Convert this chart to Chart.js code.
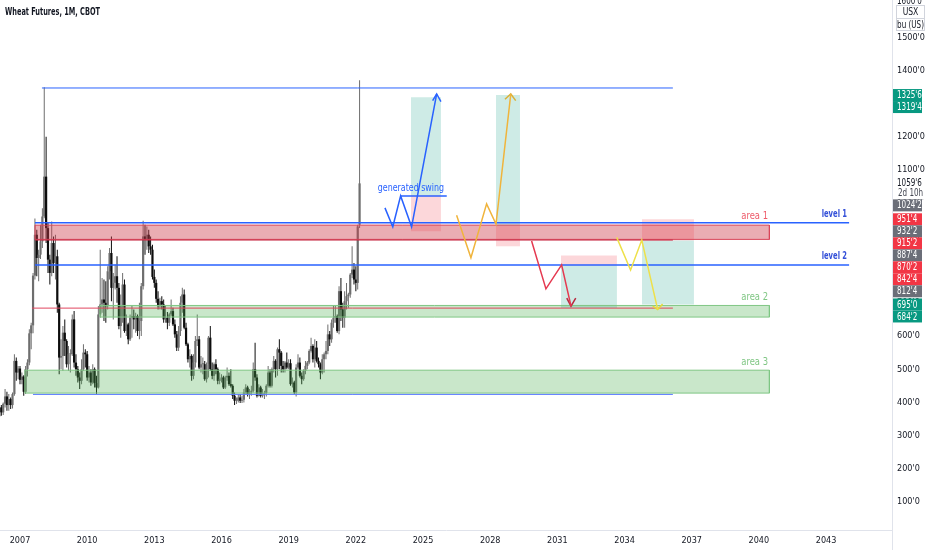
<!DOCTYPE html>
<html>
<head>
<meta charset="utf-8">
<script src="https://cdn.jsdelivr.net/npm/chart.js"></script>
<style>
  html, body { margin: 0; padding: 0; background: #ffffff; }
  #wrap { width: 932px; height: 550px; }
</style>
</head>
<body>
<div id="wrap"><canvas id="chart" width="932" height="550"></canvas></div>
<script>
// Wheat Futures, 1M, CBOT - monthly candles from Feb 2006 to Mar 2022
var startYear = 2006, startMonth = 2;

var opens = [
  358, 385, 370, 396, 418, 392, 410, 392, 425, 525, 490,            // 2006 (Feb-Dec)
  502, 468, 478, 432, 500, 520, 608, 632, 782, 905, 835, 845,       // 2007
  885, 960, 1080, 925, 830, 790, 880, 820, 840, 695, 535, 540,      // 2008
  610, 585, 515, 545, 545, 650, 520, 500, 475, 465, 500, 550,       // 2009
  545, 475, 490, 460, 500, 458, 445, 665, 695, 710, 700, 690,       // 2010
  795, 850, 745, 760, 780, 745, 630, 690, 755, 615, 635, 590,       // 2011
  655, 660, 650, 660, 615, 645, 750, 900, 890, 905, 870, 860,       // 2012
  778, 760, 712, 690, 705, 695, 650, 655, 640, 665, 675, 635,       // 2013
  605, 565, 615, 700, 725, 625, 575, 530, 540, 480, 520, 585,       // 2014
  590, 505, 515, 515, 470, 515, 595, 500, 480, 515, 500, 465,       // 2015
  470, 475, 445, 475, 480, 455, 450, 420, 405, 405, 415, 405,       // 2016
  408, 430, 445, 425, 430, 435, 500, 475, 420, 445, 420, 425,       // 2017
  428, 450, 490, 450, 500, 525, 500, 560, 550, 510, 500, 520,       // 2018
  505, 518, 455, 460, 430, 505, 520, 480, 470, 495, 510, 520,       // 2019
  555, 570, 530, 565, 525, 515, 490, 530, 545, 555, 605, 590,       // 2020
  640, 655, 660, 615, 735, 680, 655, 705, 720, 725, 785, 800,       // 2021
  770, 760, 935                                                     // 2022 (Jan-Mar)
];
var highs = [
  392, 392, 400, 440, 432, 425, 415, 430, 545, 535, 510,
  510, 490, 482, 510, 530, 620, 640, 790, 954, 920, 860, 935,
  985, 1349, 1200, 940, 845, 945, 900, 905, 860, 700, 590, 630,
  650, 590, 570, 560, 665, 675, 545, 510, 490, 530, 575, 560,
  555, 510, 500, 515, 505, 480, 690, 860, 775, 770, 765, 810,
  865, 900, 790, 815, 840, 760, 725, 790, 770, 665, 640, 665,
  690, 680, 670, 665, 700, 760, 947, 935, 930, 920, 900, 875,
  800, 770, 735, 715, 720, 710, 690, 672, 670, 710, 685, 650,
  615, 630, 720, 745, 740, 640, 580, 560, 545, 545, 600, 665,
  600, 540, 535, 525, 520, 600, 630, 520, 520, 530, 505, 490,
  485, 480, 480, 505, 490, 500, 455, 430, 415, 425, 425, 420,
  440, 455, 450, 440, 450, 520, 580, 485, 455, 450, 440, 435,
  455, 510, 500, 505, 540, 530, 565, 590, 555, 525, 525, 550,
  530, 530, 475, 465, 515, 545, 535, 490, 500, 525, 525, 560,
  595, 575, 590, 585, 535, 520, 545, 550, 585, 635, 615, 650,
  690, 690, 665, 750, 775, 700, 735, 760, 730, 790, 870, 820,
  810, 935, 1370
];
var lows = [
  350, 360, 362, 385, 375, 375, 380, 382, 420, 465, 470,
  455, 455, 420, 425, 478, 512, 560, 608, 770, 780, 765, 832,
  865, 955, 880, 790, 755, 780, 790, 770, 670, 485, 500, 495,
  540, 505, 495, 490, 540, 505, 480, 460, 440, 455, 495, 505,
  465, 460, 450, 455, 445, 425, 442, 655, 670, 645, 640, 680,
  770, 705, 650, 740, 700, 620, 595, 640, 610, 600, 575, 585,
  595, 620, 610, 600, 590, 600, 740, 845, 860, 850, 845, 770,
  745, 700, 680, 680, 680, 640, 640, 620, 630, 660, 630, 595,
  555, 555, 600, 670, 620, 570, 520, 505, 465, 470, 505, 570,
  500, 490, 485, 465, 460, 475, 495, 470, 465, 485, 455, 455,
  460, 440, 440, 465, 450, 445, 410, 392, 395, 400, 398, 398,
  400, 425, 418, 410, 420, 430, 465, 415, 418, 415, 415, 410,
  418, 445, 445, 445, 490, 475, 480, 500, 490, 490, 490, 500,
  500, 450, 445, 425, 418, 500, 475, 455, 465, 485, 500, 515,
  550, 520, 505, 520, 505, 470, 485, 490, 530, 545, 570, 580,
  625, 640, 610, 605, 645, 625, 625, 680, 685, 715, 775, 755,
  735, 740, 925
];
var closes = [
  385, 370, 396, 418, 392, 410, 392, 425, 525, 490, 502,
  468, 478, 432, 500, 520, 608, 632, 782, 905, 835, 845, 885,
  960, 1080, 925, 830, 790, 880, 820, 840, 695, 535, 540, 610,
  585, 515, 545, 545, 650, 520, 500, 475, 465, 500, 550, 545,
  475, 490, 460, 500, 458, 445, 665, 695, 710, 700, 690, 795,
  850, 745, 760, 780, 745, 630, 690, 755, 615, 635, 590, 655,
  660, 650, 660, 615, 645, 750, 900, 890, 905, 870, 860, 778,
  760, 712, 690, 705, 695, 650, 655, 640, 665, 675, 635, 605,
  565, 615, 700, 725, 625, 575, 530, 540, 480, 520, 585, 590,
  505, 515, 515, 470, 515, 595, 500, 480, 515, 500, 465, 470,
  475, 445, 475, 480, 455, 450, 420, 405, 405, 415, 405, 408,
  430, 445, 425, 430, 435, 500, 475, 420, 445, 420, 425, 428,
  450, 490, 450, 500, 525, 500, 560, 550, 510, 500, 520, 505,
  518, 455, 460, 430, 505, 520, 480, 470, 495, 510, 520, 555,
  570, 530, 565, 525, 515, 490, 530, 545, 555, 605, 590, 640,
  655, 660, 615, 735, 680, 655, 705, 720, 725, 785, 800, 770,
  760, 930, 1059.75
];

// axes
var yearTicks = [2007, 2010, 2013, 2016, 2019, 2022, 2025, 2028, 2031, 2034, 2037, 2040, 2043];
var priceTicks = [100, 200, 300, 400, 500, 600, 700, 800, 900, 1000, 1100, 1200, 1300, 1400, 1500];

// zones (area 1..3): x in years, y in cents
var zoneNames = ['area 1', 'area 2', 'area 3'];
var zoneFrom = [2007.67, 2010.57, 2007.22];
var zoneTo = [2040.47, 2040.47, 2040.47];
var zoneTop = [934, 692, 497];
var zoneBottom = [891, 657, 428];

// horizontal lines
var lineValues = [1347, 941, 814, 889, 684, 424];
var lineFrom = [2007.98, 2007.67, 2007.67, 2007.67, 2007.54, 2007.58];
var lineTo = [2036.16, 2044.03, 2044.03, 2036.16, 2036.16, 2036.16];

// long / short position boxes
var posFrom = [2024.46, 2028.26, 2031.16, 2034.78];
var posTo = [2025.80, 2029.33, 2033.66, 2037.10];
var posEntry = [1024.25, 932.25, 812.5, 887.5];
var posTarget = [1319.5, 1325.75, 684.25, 695];
var posStop = [915.25, 870.25, 842.5, 951.5];

// hand drawn swings
var blueSwingX = [2023.30, 2023.65, 2024.00, 2024.49, 2025.61];
var blueSwingY = [986, 929, 1022, 929, 1329];
var blueHeadX = [2025.43, 2025.61, 2025.80];
var blueHeadY = [1309, 1329, 1306];
var blueFlatX = [2024.00, 2026.06];
var blueFlatY = [1022, 1022];
var orangeSwingX = [2026.50, 2027.14, 2027.84, 2028.26, 2028.92];
var orangeSwingY = [964, 836, 998, 937, 1329];
var orangeHeadX = [2028.66, 2028.92, 2029.14];
var orangeHeadY = [1313, 1329, 1309];
var redSwingX = [2029.85, 2030.49, 2031.19, 2031.61];
var redSwingY = [886, 742, 814, 690];
var redHeadX = [2031.42, 2031.61, 2031.82];
var redHeadY = [714, 690, 714];
var yellowSwingX = [2033.65, 2034.27, 2034.77, 2035.48];
var yellowSwingY = [897, 799, 889, 680];
var yellowHeadX = [2035.26, 2035.48, 2035.70];
var yellowHeadY = [690, 680, 696];

// text notes on the chart
var noteTexts = ['generated swing', 'area 1', 'level 1', 'level 2', 'area 2', 'area 3'];
var noteX = [2024.46, 2040.41, 2043.94, 2043.94, 2040.41, 2040.41];
var noteY = [1046, 961, 967, 841, 717, 522];

// price tags on the right axis
var tagValues = [1325.75, 1319.5, 1059.75, 1024.25, 951.5, 932.25, 915.25, 887.5, 870.25, 842.5, 812.5, 695, 684.25];
var tagKinds = ['green', 'green', 'last', 'gray', 'red', 'gray', 'red', 'gray', 'red', 'red', 'gray', 'green', 'green'];

var narrow = "'DejaVu Sans Condensed', 'Liberation Sans', sans-serif";
var tagColors = { green: '#089981', red: '#f23645', gray: '#6b6e78' };

function fmtPrice(v) {
  var whole = Math.floor(v + 1e-9);
  return whole + "'" + Math.round((v - whole) * 8);
}

function pts(xs, ys) {
  return xs.map(function (x, i) { return { x: x, y: ys[i] }; });
}

function boxFill(x1, x2, top, bottom, color, order) {
  return {
    type: 'line', data: [{ x: x1, y: top }, { x: x2, y: top }],
    borderColor: 'rgba(0,0,0,0)', borderWidth: 0, pointRadius: 0,
    backgroundColor: color, fill: { value: bottom }, order: order
  };
}

function boxOutline(x1, x2, top, bottom, color, order) {
  return {
    type: 'line',
    data: [{ x: x1, y: top }, { x: x2, y: top }, { x: x2, y: bottom }, { x: x1, y: bottom }, { x: x1, y: top }],
    borderColor: color, borderWidth: 1, pointRadius: 0, fill: false, order: order
  };
}

function path(xs, ys, color, width, order) {
  return {
    type: 'line', data: pts(xs, ys), borderColor: color, borderWidth: width,
    pointRadius: 0, fill: false, tension: 0, order: order
  };
}

var candleX = opens.map(function (o, i) { return startYear + (startMonth - 1 + i) / 12; });
function candleColor(c) {
  var i = c.dataIndex;
  return closes[i] >= opens[i] ? '#6e6e6e' : '#0d0d0d';
}

var datasets = [];
// wicks and bodies
datasets.push({
  type: 'bar', data: candleX.map(function (x, i) { return { x: x, y: [lows[i], highs[i]] }; }),
  backgroundColor: candleColor, barThickness: 1, grouped: false, inflateAmount: 0, order: 40
});
datasets.push({
  type: 'bar', data: candleX.map(function (x, i) { return { x: x, y: [opens[i], closes[i]] }; }),
  backgroundColor: candleColor, barThickness: 2.2, grouped: false, inflateAmount: 0, minBarLength: 1, order: 39
});

// zones
var zoneFill = ['rgba(204, 60, 75, 0.42)', 'rgba(76, 175, 80, 0.3)', 'rgba(76, 175, 80, 0.3)'];
var zoneEdge = ['#d9475a', '#7fc683', '#7fc683'];
zoneNames.forEach(function (n, i) {
  datasets.push(boxFill(zoneFrom[i], zoneTo[i], zoneTop[i], zoneBottom[i], zoneFill[i], 30));
  datasets.push(boxOutline(zoneFrom[i], zoneTo[i], zoneTop[i], zoneBottom[i], zoneEdge[i], 20));
});

// positions
posEntry.forEach(function (e, i) {
  datasets.push(boxFill(posFrom[i], posTo[i], posTarget[i], e, 'rgba(8, 153, 129, 0.2)', 25));
  datasets.push(boxFill(posFrom[i], posTo[i], posStop[i], e, 'rgba(242, 54, 69, 0.2)', 25));
});

// horizontal lines
var lineColors = ['#2962ff', '#2962ff', '#2962ff', '#c62842', '#e0455e', '#5b7bff'];
var lineWidths = [1, 1.5, 1.5, 1, 1, 1];
lineValues.forEach(function (v, i) {
  datasets.push(path([lineFrom[i], lineTo[i]], [v, v], lineColors[i], lineWidths[i], 10));
});

// swings
datasets.push(path(blueSwingX, blueSwingY, '#2962ff', 1.5, 2));
datasets.push(path(blueHeadX, blueHeadY, '#2962ff', 1.5, 2));
datasets.push(path(blueFlatX, blueFlatY, '#2962ff', 1.5, 2));
datasets.push(path(orangeSwingX, orangeSwingY, '#f0b43c', 1.5, 2));
datasets.push(path(orangeHeadX, orangeHeadY, '#d9b13a', 1.5, 2));
datasets.push(path(redSwingX, redSwingY, '#e53950', 1.5, 2));
datasets.push(path(redHeadX, redHeadY, '#b8283f', 1.5, 2));
datasets.push(path(yellowSwingX, yellowSwingY, '#eee04a', 1.5, 2));
datasets.push(path(yellowHeadX, yellowHeadY, '#e6d83a', 1.5, 2));

// text squeezed horizontally to match the narrow chart font
function narrowText(ctx, text, x, y, align, sx) {
  var w = ctx.measureText(text).width * sx;
  var left = align === 'right' ? x - w : (align === 'center' ? x - w / 2 : x);
  ctx.save();
  ctx.textAlign = 'left';
  ctx.translate(left, y);
  ctx.scale(sx, 1);
  ctx.fillText(text, 0, 0);
  ctx.restore();
}

var overlay = {
  id: 'overlay',
  afterDraw: function (chart) {
    var ctx = chart.ctx, xs = chart.scales.x, ys = chart.scales.y, area = chart.chartArea;
    ctx.save();
    ctx.textBaseline = 'middle';

    // chart notes
    var noteColors = ['#2962ff', '#ee5b6a', '#3450d8', '#3450d8', '#7fc683', '#7fc683'];
    var noteAlign = ['center', 'right', 'right', 'right', 'right', 'right'];
    var noteFonts = ['11px ', '11px ', 'bold 10.5px ', 'bold 10.5px ', '11px ', '11px '];
    var noteSquash = [0.8, 0.85, 0.72, 0.72, 0.85, 0.85];
    noteTexts.forEach(function (t, i) {
      ctx.font = noteFonts[i] + narrow;
      ctx.fillStyle = noteColors[i];
      narrowText(ctx, t, xs.getPixelForValue(noteX[i]), ys.getPixelForValue(noteY[i]), noteAlign[i], noteSquash[i]);
    });

    // axis separator through the corner
    ctx.strokeStyle = '#e0e3eb';
    ctx.lineWidth = 1;
    ctx.beginPath();
    ctx.moveTo(area.right + 0.5, 0);
    ctx.lineTo(area.right + 0.5, chart.height);
    ctx.stroke();

    // price tags, stacked so they do not overlap
    var tx = area.right + 5;
    var prevBottom = -Infinity;
    ctx.font = '10px ' + narrow;
    tagValues.forEach(function (v, i) {
      var kind = tagKinds[i];
      var h = kind === 'last' ? 22 : 12;
      var c = ys.getPixelForValue(v) + (kind === 'last' ? 5 : 0);
      var top = Math.max(c - h / 2, prevBottom);
      prevBottom = top + h;
      if (kind === 'last') {
        ctx.fillStyle = '#ffffff';
        ctx.fillRect(area.right + 1, top, 35, h);
        ctx.fillStyle = '#131722';
        narrowText(ctx, fmtPrice(v), tx, top + 6, 'left', 0.8);
        ctx.fillStyle = '#434651';
        narrowText(ctx, '2d 10h', tx + 1, top + 16.5, 'left', 0.8);
      } else {
        ctx.fillStyle = tagColors[kind];
        ctx.fillRect(area.right + 1, top, 29, h);
        ctx.fillStyle = '#ffffff';
        ctx.fillRect(area.right + 30, top, 10, h);
        ctx.fillStyle = '#ffffff';
        narrowText(ctx, fmtPrice(v), tx, top + h / 2 + 0.5, 'left', 0.8);
      }
    });

    // top right unit box
    ctx.fillStyle = '#131722';
    narrowText(ctx, fmtPrice(1600), tx, ys.getPixelForValue(1600) - 3, 'left', 0.8);
    ctx.fillStyle = '#ffffff';
    ctx.fillRect(area.right + 4, 5, 29, 26);
    ctx.strokeStyle = '#d1d4dc';
    ctx.strokeRect(area.right + 4.5, 5.5, 28, 25);
    ctx.beginPath();
    ctx.moveTo(area.right + 4.5, 18.5);
    ctx.lineTo(area.right + 32.5, 18.5);
    ctx.stroke();
    ctx.fillStyle = '#131722';
    narrowText(ctx, 'USX', area.right + 18.5, 12, 'center', 0.85);
    narrowText(ctx, 'bu (US)', area.right + 18.5, 25, 'center', 0.8);

    // title
    ctx.font = 'bold 10.5px ' + narrow;
    ctx.fillStyle = '#131722';
    narrowText(ctx, 'Wheat Futures, 1M, CBOT', 5, 12, 'left', 95 / ctx.measureText('Wheat Futures, 1M, CBOT').width);
    ctx.restore();
  }
};

var tickFont = { family: narrow, size: 9 };

new Chart(document.getElementById('chart').getContext('2d'), {
  type: 'line',
  data: { datasets: datasets },
  options: {
    responsive: false,
    animation: false,
    events: [],
    layout: { padding: 0 },
    plugins: { legend: { display: false }, tooltip: { enabled: false } },
    scales: {
      x: {
        type: 'linear', min: 2006.107, max: 2045.946, offset: false,
        grid: { display: false, drawTicks: false },
        border: { display: true, color: '#e0e3eb' },
        ticks: { padding: 5, color: '#131722', font: tickFont, maxRotation: 0, autoSkip: false,
                 callback: function (v) { return String(v); } },
        afterBuildTicks: function (s) { s.ticks = yearTicks.map(function (v) { return { value: v }; }); },
        afterFit: function (s) { s.height = 20; s.paddingLeft = 0; s.paddingRight = 0; }
      },
      y: {
        type: 'linear', position: 'right', min: 15.66, max: 1612.05,
        grid: { display: false, drawTicks: false },
        border: { display: true, color: '#e0e3eb' },
        ticks: { padding: 5, color: '#131722', font: tickFont, autoSkip: false,
                 callback: function (v) { return fmtPrice(v); } },
        afterBuildTicks: function (s) { s.ticks = priceTicks.map(function (v) { return { value: v }; }); },
        afterFit: function (s) { s.width = 40; s.paddingTop = 0; s.paddingBottom = 0; }
      }
    }
  },
  plugins: [overlay]
});
</script>
</body>
</html>
